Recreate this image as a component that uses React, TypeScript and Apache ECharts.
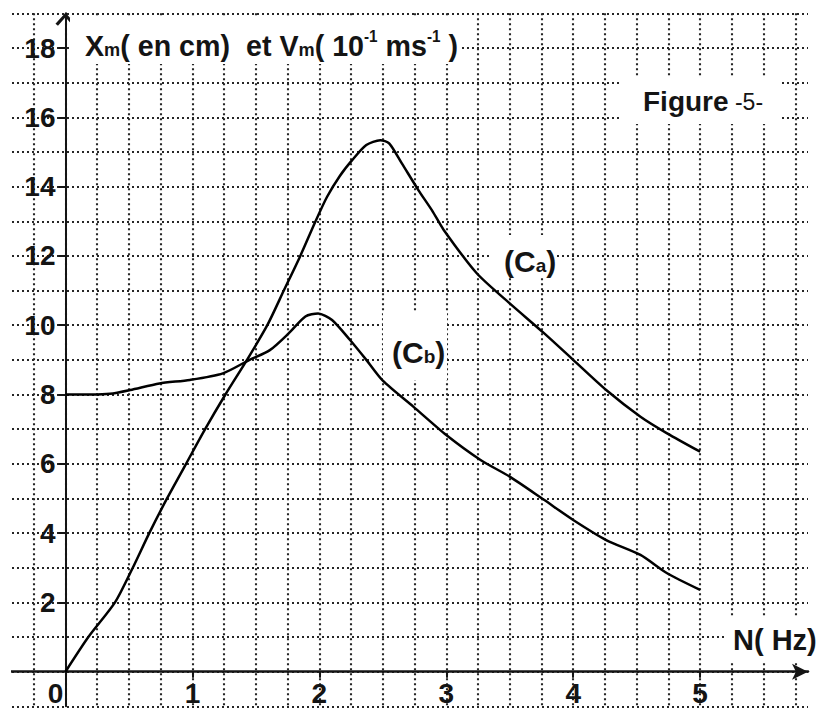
import React, { useEffect, useRef } from "react";
import * as echarts from "echarts";

// Curve (Ca): amplitude vs frequency
const caPoints: [number, number][] = [
  [0, 0], [0.18, 1], [0.39, 2], [0.53, 3], [0.66, 4], [0.8, 5], [0.95, 6],
  [1.1, 7], [1.26, 8], [1.43, 9], [1.59, 10], [1.72, 11], [1.85, 12],
  [1.97, 13.0], [2.06, 13.7], [2.16, 14.3], [2.26, 14.77], [2.37, 15.2],
  [2.48, 15.34], [2.55, 15.25], [2.65, 14.67], [2.78, 13.9], [2.89, 13.3],
  [2.98, 12.75], [3.24, 11.5], [3.5, 10.63], [3.77, 9.77], [4.0, 9.0],
  [4.26, 8.13], [4.53, 7.36], [4.74, 6.88], [5.0, 6.35],
];
// Curve (Cb)
const cbPoints: [number, number][] = [
  [0, 8], [0.2, 8], [0.35, 8.02], [0.51, 8.13], [0.74, 8.32], [0.98, 8.42],
  [1.24, 8.61], [1.45, 9.0], [1.61, 9.28], [1.76, 9.77], [1.89, 10.25],
  [1.99, 10.34], [2.1, 10.15], [2.24, 9.58], [2.37, 9.0], [2.5, 8.4], [2.74, 7.65],
  [3.0, 6.83], [3.27, 6.11], [3.5, 5.63], [3.77, 4.96], [4.0, 4.38],
  [4.26, 3.8], [4.53, 3.37], [4.74, 2.84], [5.0, 2.36],
];
const xTickLabels = [0, 1, 2, 3, 4, 5];
const xTicks = [1, 2, 3, 4, 5];
const yTickLabels = [2, 4, 6, 8, 10, 12, 14, 16, 18];

const FONT = "'Liberation Sans', Arial, sans-serif";
const INK = "#141414";
const CHEVRON = "path://M10,0 L20,11 L17.5,13 L10,4.5 L2.5,13 L0,11 Z";

export default function App() {
  const ref = useRef<HTMLDivElement>(null);
  useEffect(() => {
    if (!ref.current) return;
    const chart = echarts.init(ref.current, null, { renderer: "svg" });
    const dotted = { type: [2, 3] as number[], color: "#262626", width: 2.1 };
    const X_MIN = -0.5, X_MAX = 5.85, Y_MIN = -1, Y_MAX = 19;
    chart.setOption({
      animation: false,
      backgroundColor: "#fff",
      grid: [
        { left: 2, top: 13.35, width: 806, height: 693, containLabel: false, outerBoundsMode: "none" },
        { left: 65.5, top: 13.35, width: 742.5, height: 658.35, containLabel: false, outerBoundsMode: "none" },
      ],
      xAxis: [
        {
          type: "value", gridIndex: 0, min: X_MIN, max: X_MAX, interval: 0.25,
          axisLine: {
            onZero: true,
            lineStyle: { color: INK, width: 2.5 },
            symbol: ["none", "arrow"],
            symbolSize: [12, 16],
          },
          axisTick: { show: false }, axisLabel: { show: false },
          splitLine: { show: true, showMinLine: false, showMaxLine: false, lineStyle: dotted },
        },
        {
          type: "value", gridIndex: 1, min: 0, max: X_MAX, position: "bottom",
          axisLine: { show: false },
          axisTick: { show: true, customValues: xTicks, length: 6, lineStyle: { color: INK, width: 2 } },
          axisLabel: {
            customValues: xTickLabels,
            margin: 8,
            fontFamily: FONT,
            fontSize: 28,
            fontWeight: "bold",
            color: INK,
            formatter: (v: number) => (v === 0 ? "{z|0}" : String(v)),
            rich: { z: { fontFamily: FONT, fontSize: 28, fontWeight: "bold", color: INK, padding: [0, 20, 0, 0] } },
          },
          splitLine: { show: false },
        },
      ],
      yAxis: [
        {
          type: "value", gridIndex: 0, min: Y_MIN, max: Y_MAX, interval: 1,
          axisLine: {
            onZero: true,
            lineStyle: { color: INK, width: 2 },
            symbol: ["none", CHEVRON],
            symbolSize: [20, 13],
            symbolOffset: [0, -6],
          },
          axisTick: { show: false }, axisLabel: { show: false },
          splitLine: { show: true, showMinLine: true, showMaxLine: true, lineStyle: dotted },
        },
        {
          type: "value", gridIndex: 1, min: 0, max: Y_MAX, position: "left",
          axisLine: { show: false },
          axisTick: { show: true, customValues: yTickLabels, length: 7, lineStyle: { color: INK, width: 2 } },
          axisLabel: {
            customValues: yTickLabels,
            margin: 10,
            fontFamily: FONT,
            fontSize: 28,
            fontWeight: "bold",
            color: INK,
          },
          splitLine: { show: false },
        },
      ],
      graphic: [
        { type: "rect", z: 1, shape: { x: 0, y: 0, width: 11, height: 713 }, style: { fill: "#fff" } },
        { type: "rect", z: 1, shape: { x: 70, y: 18, width: 392, height: 46 }, style: { fill: "#fff" } },
        { type: "rect", z: 1, shape: { x: 620, y: 76, width: 162, height: 48 }, style: { fill: "#fff" } },
        { type: "rect", z: 1, shape: { x: 724, y: 618, width: 92, height: 44 }, style: { fill: "#fff" } },
        { type: "rect", z: 1, shape: { x: 492, y: 235, width: 62, height: 42 }, style: { fill: "#fff" } },
        { type: "rect", z: 1, shape: { x: 383, y: 312, width: 64, height: 68 }, style: { fill: "#fff" } },
        {
          type: "text", z: 5, x: 85, y: 26, scaleX: 0.955,
          style: {
            text: "{b|X}{s|m}{b|( en cm)  et V}{s|m}{b|( 10}{p|-1}{b| ms}{p|-1}{b| )}",
            rich: {
              b: { fontFamily: FONT, fontSize: 30, fontWeight: "bold", fill: INK, lineHeight: 34, verticalAlign: "bottom" },
              s: { fontFamily: FONT, fontSize: 19, fontWeight: "bold", fill: INK, lineHeight: 34, verticalAlign: "bottom", padding: [0, 0, 1, 0] },
              p: { fontFamily: FONT, fontSize: 16, fontWeight: "bold", fill: INK, lineHeight: 34, verticalAlign: "top", padding: [2, 0, 0, 0] },
            },
          },
        },
        {
          type: "text", z: 5, x: 643, y: 81,
          style: {
            text: "{b|Figure}{n| -5-}",
            rich: {
              b: { fontFamily: FONT, fontSize: 28, fontWeight: "bold", fill: INK, lineHeight: 34, verticalAlign: "bottom" },
              n: { fontFamily: FONT, fontSize: 23, fill: INK, lineHeight: 34, verticalAlign: "bottom", padding: [0, 0, 2, 0] },
            },
          },
        },
        {
          type: "text", z: 5, x: 733, y: 625,
          style: { text: "N( Hz)", fontFamily: FONT, fontSize: 29, fontWeight: "bold", fill: INK },
        },
        {
          type: "text", z: 5, x: 504, y: 240,
          style: {
            text: "{b|(C}{s|a}{b|)}",
            rich: {
              b: { fontFamily: FONT, fontSize: 30, fontWeight: "bold", fill: INK, lineHeight: 36, verticalAlign: "bottom" },
              s: { fontFamily: FONT, fontSize: 19, fontWeight: "bold", fill: INK, lineHeight: 36, verticalAlign: "bottom", padding: [0, 0, 1, 0] },
            },
          },
        },
        {
          type: "text", z: 5, x: 392, y: 331,
          style: {
            text: "{b|(C}{s|b}{b|)}",
            rich: {
              b: { fontFamily: FONT, fontSize: 30, fontWeight: "bold", fill: INK, lineHeight: 36, verticalAlign: "bottom" },
              s: { fontFamily: FONT, fontSize: 19, fontWeight: "bold", fill: INK, lineHeight: 36, verticalAlign: "bottom", padding: [0, 0, 1, 0] },
            },
          },
        },
      ],
      series: [
        {
          name: "(Ca)", type: "line", data: caPoints, showSymbol: false, smooth: 0.25, z: 3,
          xAxisIndex: 1, yAxisIndex: 1,
          lineStyle: { color: "#000", width: 2.5 },
        },
        {
          name: "(Cb)", type: "line", data: cbPoints, showSymbol: false, smooth: 0.25, z: 3,
          xAxisIndex: 1, yAxisIndex: 1,
          lineStyle: { color: "#000", width: 2.5 },
        },
      ],
    });
    return () => chart.dispose();
  }, []);
  return (
    <div
      ref={ref}
      style={{ position: "absolute", left: 0, top: 0, width: 828, height: 713, background: "#fff" }}
    />
  );
}
